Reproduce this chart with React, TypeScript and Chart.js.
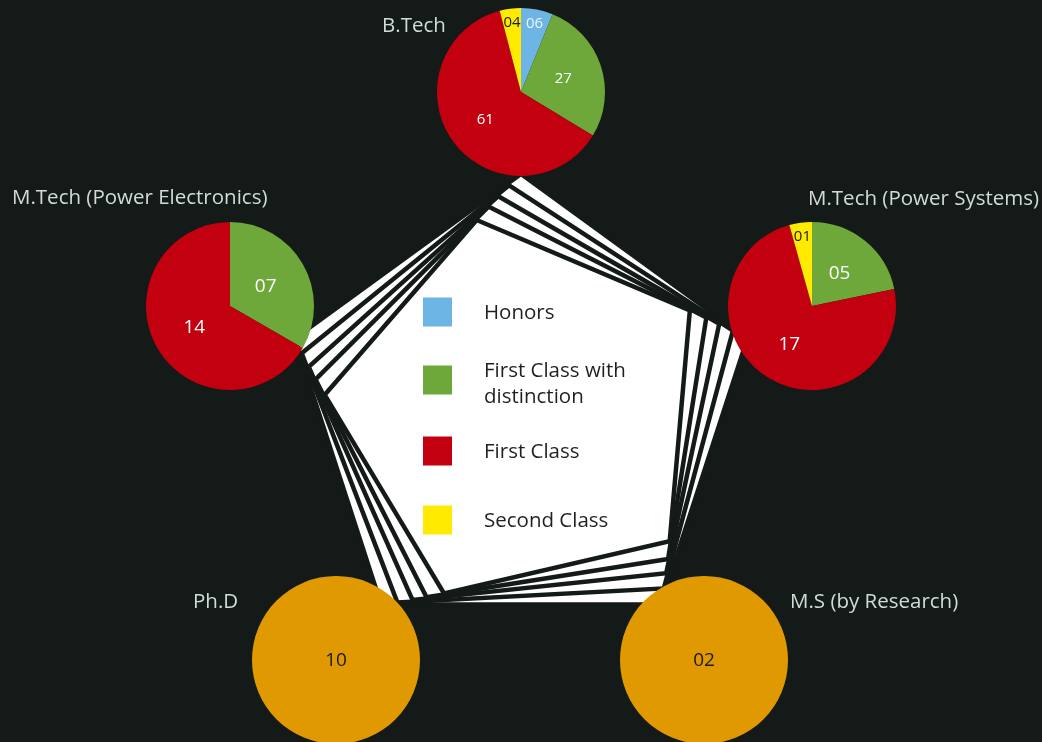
import React, { useEffect, useRef } from 'react';
import { Chart, registerables } from 'chart.js';

Chart.register(...registerables);

// ---------- data ----------
const categories = ['Honors', 'First Class with distinction', 'First Class', 'Second Class'];
const programs = ['B.Tech', 'M.Tech (Power Systems)', 'M.Tech (Power Electronics)', 'Ph.D', 'M.S (by Research)'];
const btechValues = [6, 27, 61, 4];
const mtechPSValues = [0, 5, 17, 1];
const mtechPEValues = [0, 7, 14, 0];
const phdValues = [10];
const msValues = [2];

// ---------- styles ----------
const W = 1042;
const H = 742;
const BG = '#131a17';
const FONT = '"Open Sans", "Noto Sans", sans-serif';
const categoryColors = ['#6cb5e5', '#6fa83a', '#c2000f', '#ffea00'];
const categoryText = ['#eef6fb', '#ffffff', '#ffffff', '#1a1a1a'];
const researchColor = '#e09900';
const titleColor = '#d3dbd8';
const S = 200;

// decorative pentagon layers: [rotation in degrees, radius]
const PENTAGON_LAYERS: [number, number][] = [
  [0, 238],
  [-3, 227],
  [-6, 217],
  [-9, 208],
  [-13, 197],
];

type PieCfg = {
  title: string;
  values: number[];
  single: boolean;
  cx: number;
  cy: number;
  r: number;
  font: number;
  titleX: number;
  titleY: number;
  labelR: number;
};

const PIES: PieCfg[] = [
  { title: programs[0], values: btechValues, single: false, cx: 521, cy: 92, r: 84, font: 15, titleX: 382, titleY: 26, labelR: 0.53 },
  { title: programs[1], values: mtechPSValues, single: false, cx: 812, cy: 306, r: 84, font: 19, titleX: 808, titleY: 199, labelR: 0.52 },
  { title: programs[2], values: mtechPEValues, single: false, cx: 230, cy: 306, r: 84, font: 19, titleX: 12, titleY: 198, labelR: 0.49 },
  { title: programs[3], values: phdValues, single: true, cx: 336, cy: 660, r: 84, font: 19, titleX: 193, titleY: 602, labelR: 0 },
  { title: programs[4], values: msValues, single: true, cx: 704, cy: 660, r: 84, font: 19, titleX: 790, titleY: 602, labelR: 0 },
];

const fmt = (v: number) => (v < 10 ? '0' + v : String(v));

function wrapText(ctx: CanvasRenderingContext2D, text: string, maxW: number): string[] {
  const words = text.split(' ');
  const lines: string[] = [];
  let cur = '';
  for (const w of words) {
    const test = cur ? cur + ' ' + w : w;
    if (ctx.measureText(test).width > maxW && cur) {
      lines.push(cur);
      cur = w;
    } else cur = test;
  }
  if (cur) lines.push(cur);
  return lines;
}

const backgroundPlugin = {
  id: 'infographicBackground',
  beforeDraw(chart: any) {
    const ctx: CanvasRenderingContext2D = chart.ctx;
    ctx.save();
    ctx.fillStyle = BG;
    ctx.fillRect(0, 0, chart.width, chart.height);

    // stacked rotated pentagons
    const cx = 521;
    const cy = 412;
    PENTAGON_LAYERS.forEach(([deg, r]) => {
      const rot = (deg * Math.PI) / 180;
      ctx.beginPath();
      for (let i = 0; i < 5; i++) {
        const a = -Math.PI / 2 + (i * 2 * Math.PI) / 5 + rot;
        const x = cx + r * Math.cos(a);
        const y = cy + r * Math.sin(a);
        if (i === 0) ctx.moveTo(x, y);
        else ctx.lineTo(x, y);
      }
      ctx.closePath();
      ctx.fillStyle = '#ffffff';
      ctx.fill();
      ctx.lineWidth = 4.5;
      ctx.lineJoin = 'miter';
      ctx.miterLimit = 20;
      ctx.strokeStyle = BG;
      ctx.stroke();
    });

    // legend
    const ys = [312, 380, 451, 520];
    ctx.font = `20.5px ${FONT}`;
    ctx.textBaseline = 'middle';
    ctx.textAlign = 'left';
    categories.forEach((c, i) => {
      ctx.fillStyle = categoryColors[i];
      ctx.fillRect(423, ys[i] - 14.5, 29, 29);
      ctx.fillStyle = '#231f20';
      const lines = wrapText(ctx, c, 160);
      const lh = 25.5;
      const y0 = ys[i] - ((lines.length - 1) * lh) / 2 + (lines.length > 1 ? 4 : 1);
      lines.forEach((ln, j) => ctx.fillText(ln, 484, y0 + j * lh));
    });

    // titles
    ctx.fillStyle = titleColor;
    ctx.font = `20.5px ${FONT}`;
    PIES.forEach((p) => ctx.fillText(p.title, p.titleX, p.titleY));
    ctx.restore();
  },
};

function makeLabelPlugin(p: PieCfg) {
  return {
    id: 'sliceLabels',
    afterDatasetsDraw(chart: any) {
      const ctx: CanvasRenderingContext2D = chart.ctx;
      const meta = chart.getDatasetMeta(0);
      const data: number[] = chart.data.datasets[0].data;
      ctx.save();
      ctx.textAlign = 'center';
      ctx.textBaseline = 'middle';
      meta.data.forEach((arc: any, i: number) => {
        const v = data[i];
        if (!v) return;
        const { x, y, startAngle, endAngle, outerRadius } = arc.getProps(
          ['x', 'y', 'startAngle', 'endAngle', 'outerRadius'],
          true
        );
        const span = endAngle - startAngle;
        const mid = (startAngle + endAngle) / 2;
        let rr = 0;
        let size = p.font;
        if (!p.single) {
          if (span < 0.5) {
            rr = outerRadius * 0.84;
            size = 15;
          } else rr = outerRadius * p.labelR;
        }
        ctx.font = `${size}px ${FONT}`;
        ctx.fillStyle = p.single ? '#1a1a1a' : categoryText[i];
        ctx.fillText(fmt(v), x + rr * Math.cos(mid), y + rr * Math.sin(mid) + 1);
      });
      ctx.restore();
    },
  };
}

export default function App() {
  const bgRef = useRef<HTMLCanvasElement | null>(null);
  const pieRefs = useRef<(HTMLCanvasElement | null)[]>([]);

  useEffect(() => {
    document.body.style.margin = '0';
    document.body.style.background = BG;
    const charts: Chart[] = [];
    if (bgRef.current) {
      charts.push(
        new Chart(bgRef.current, {
          type: 'scatter',
          data: { datasets: [] },
          options: {
            animation: false,
            responsive: false,
            devicePixelRatio: 1,
            events: [],
            scales: { x: { display: false }, y: { display: false } },
            plugins: { legend: { display: false }, tooltip: { enabled: false } },
          },
          plugins: [backgroundPlugin],
        } as any)
      );
    }
    PIES.forEach((p, idx) => {
      const el = pieRefs.current[idx];
      if (!el) return;
      charts.push(
        new Chart(el, {
          type: 'pie',
          data: {
            labels: p.single ? [p.title] : categories,
            datasets: [
              {
                data: p.values,
                backgroundColor: p.single ? [researchColor] : categoryColors,
                borderWidth: 0,
              },
            ],
          },
          options: {
            animation: false,
            responsive: false,
            devicePixelRatio: 1,
            events: [],
            radius: p.r,
            layout: { padding: 0 },
            plugins: { legend: { display: false }, tooltip: { enabled: false } },
          },
          plugins: [makeLabelPlugin(p)],
        } as any)
      );
    });
    return () => charts.forEach((c) => c.destroy());
  }, []);

  return (
    <div
      style={{
        position: 'fixed',
        left: 0,
        top: 0,
        width: W,
        height: H,
        overflow: 'hidden',
        background: BG,
      }}
    >
      <canvas ref={bgRef} width={W} height={H} style={{ position: 'absolute', left: 0, top: 0 }} />
      {PIES.map((p, i) => (
        <canvas
          key={i}
          ref={(el) => {
            pieRefs.current[i] = el;
          }}
          width={S}
          height={S}
          style={{ position: 'absolute', left: p.cx - S / 2, top: p.cy - S / 2 }}
        />
      ))}
    </div>
  );
}
